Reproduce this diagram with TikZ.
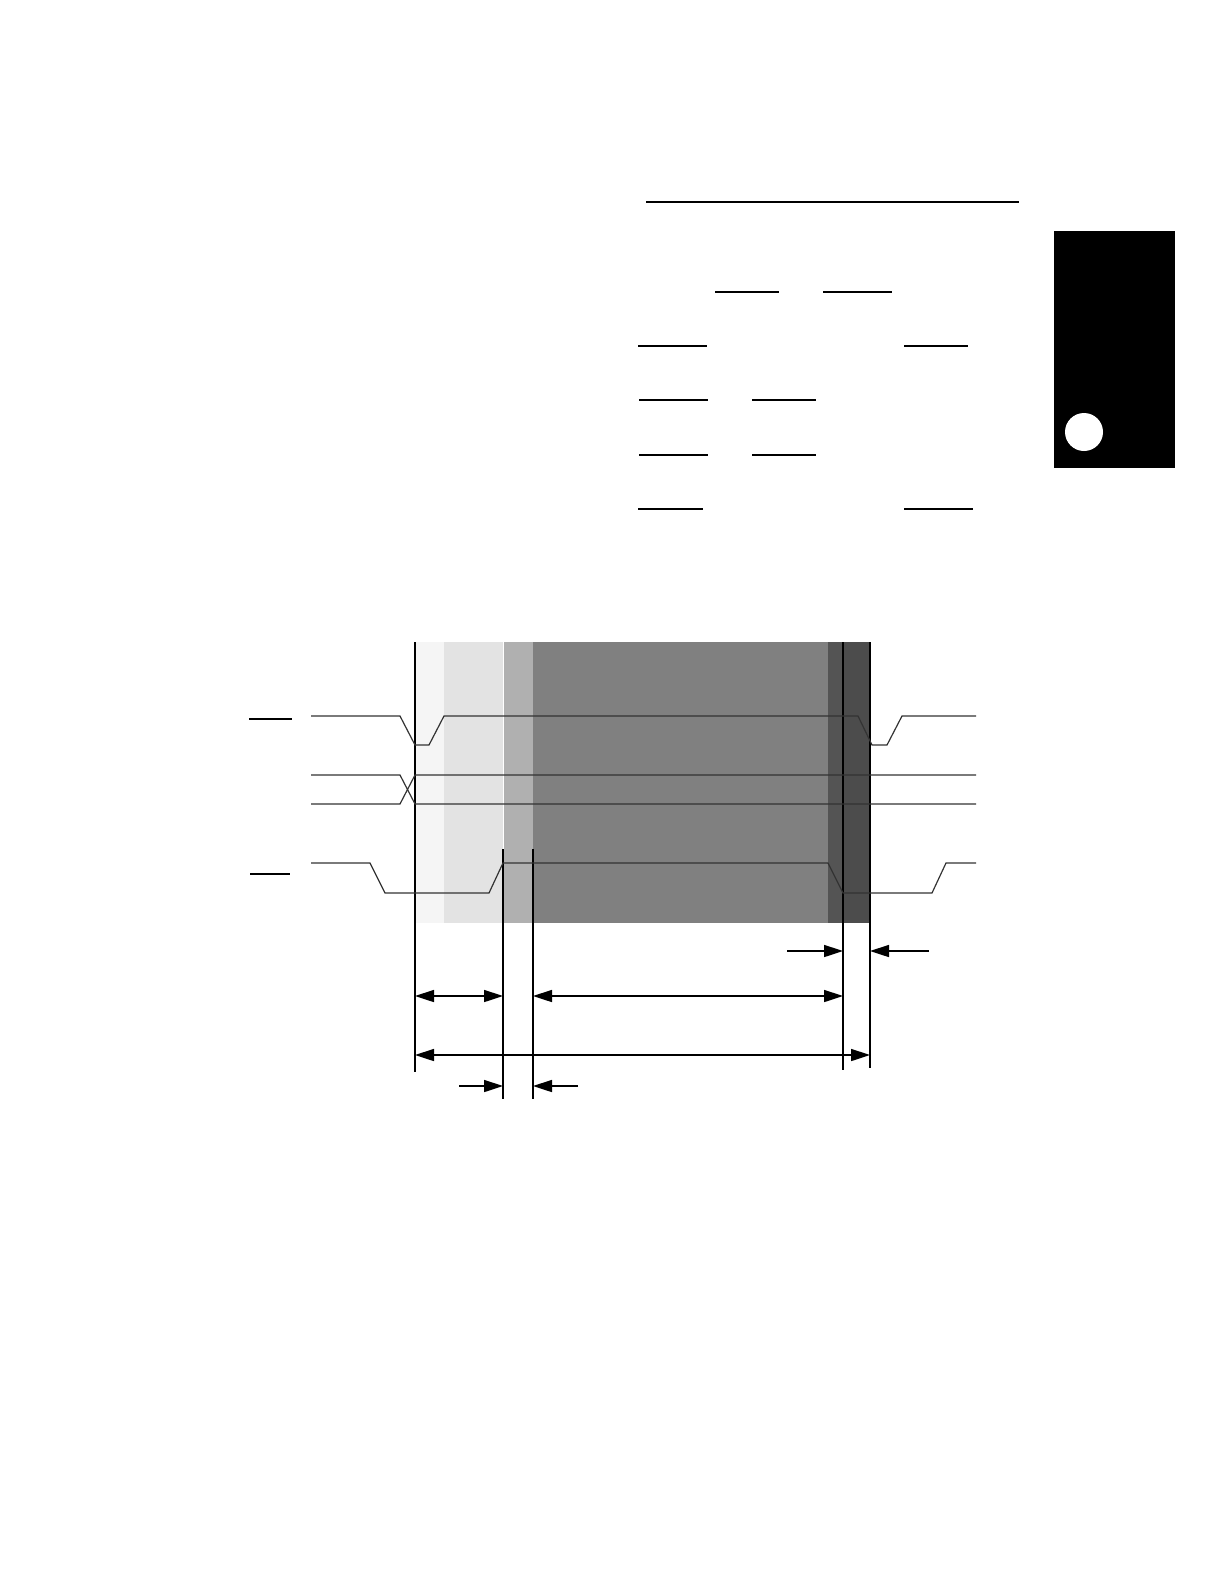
\documentclass[tikz,border=0pt]{standalone}
\usetikzlibrary{arrows.meta}
\tikzset{
  sig/.style={line width=0.6pt, draw=black!80},
  tline/.style={line width=0.8pt},
  bar/.style={line width=1pt},
  dim/.style={line width=0.8pt, -{Triangle[length=9.5pt,width=6pt]}},
  dimboth/.style={line width=0.8pt, {Triangle[length=9.5pt,width=6pt]}-{Triangle[length=9.5pt,width=6pt]}},
}
\begin{document}
\begin{tikzpicture}[x=0.5pt,y=-0.5pt]
\useasboundingbox (0,0) rectangle (1224,1584);
\draw[bar] (646,202) -- (1019,202);
\draw[bar] (715,292) -- (779,292);
\draw[bar] (823,292) -- (892,292);
\draw[bar] (638,346) -- (707,346);
\draw[bar] (904,346) -- (968,346);
\draw[bar] (639,400) -- (708,400);
\draw[bar] (752,400) -- (816,400);
\draw[bar] (639,455) -- (708,455);
\draw[bar] (752,455) -- (816,455);
\draw[bar] (638,509) -- (703,509);
\draw[bar] (904,509) -- (973,509);
\fill (1054,231) rectangle (1175,468);
\fill[white] (1084,432) circle (9.5pt);
\fill[black!4] (415,642) rectangle (444,923);
\fill[black!11] (444,642) rectangle (503,923);
\fill[black!31] (504,642) rectangle (533,923);
\fill[black!50] (533,642) rectangle (828,923);
\fill[black!67] (828,642) rectangle (843,923);
\fill[black!70] (843,642) rectangle (870,923);
\coordinate (t0) at (415,642);
\coordinate (t0e) at (415,1072);
\coordinate (t1) at (503,849);
\coordinate (t1e) at (503,1099);
\coordinate (t2) at (533,849);
\coordinate (t2e) at (533,1099);
\coordinate (t3) at (843,642);
\coordinate (t3e) at (843,1070);
\coordinate (t4) at (870,642);
\coordinate (t4e) at (870,1068);
\draw[tline] (t0) -- (t0e);
\draw[tline] (t1) -- (t1e);
\draw[tline] (t2) -- (t2e);
\draw[tline] (t3) -- (t3e);
\draw[tline] (t4) -- (t4e);
\draw[bar] (249,719) -- (292,719);
\draw[bar] (250,874) -- (290,874);
\draw[sig] (311,716) -- (400,716) -- (415,745) -- (429,745) -- (444,716) -- (858,716) -- (872,745) -- (887,745) -- (902,716) -- (976,716);
\draw[sig] (311,775) -- (400,775) -- (415,804) -- (976,804);
\draw[sig] (311,804) -- (400,804) -- (415,775) -- (976,775);
\draw[sig] (311,863) -- (370,863) -- (385,893) -- (489,893) -- (503,863) -- (828,863) -- (843,893) -- (932,893) -- (946,863) -- (976,863);
\coordinate (a1) at (787,951);
\coordinate (a2) at (929,951);
\coordinate (a3) at (459,1086);
\coordinate (a4) at (578,1086);
\draw[dim] (a1) -- (t3 |- a1);
\draw[dim] (a2) -- (t4 |- a2);
\draw[dim] (a3) -- (t1 |- a3);
\draw[dim] (a4) -- (t2 |- a4);
\coordinate (r1) at (0,996);
\coordinate (r2) at (0,1055);
\draw[dimboth] (t0 |- r1) -- (t1 |- r1);
\draw[dimboth] (t2 |- r1) -- (t3 |- r1);
\draw[dimboth] (t0 |- r2) -- (t4 |- r2);
\end{tikzpicture}
\end{document}
